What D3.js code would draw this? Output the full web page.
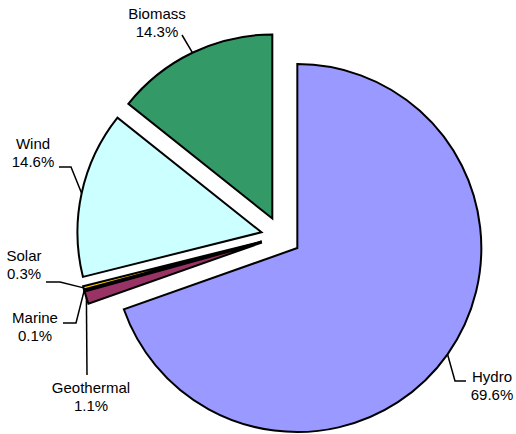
<!DOCTYPE html>
<html>
<head>
<meta charset="utf-8">
<script src="https://cdn.jsdelivr.net/npm/d3@7"></script>
<style>
  body { margin: 0; background: #fff; }
  text { font-family: Arial, "Liberation Sans", sans-serif; font-size: 15px; fill: #000; }
</style>
</head>
<body>
<div id="vis"></div>
<script>
// data
var categories = ['Hydro', 'Geothermal', 'Marine', 'Solar', 'Wind', 'Biomass'];
var shares = [69.6, 1.1, 0.1, 0.3, 14.6, 14.3];
var colors = ['#9999ff', '#993366', '#000080', '#ffcc00', '#ccffff', '#339966'];

var width = 516, height = 434;
var center = { x: 281, y: 236.5 };
var radius = 184;
var explode = 20;

// label text position (centre x, first baseline) and leader line points (label side first)
var labelLayout = {
  Hydro:      { x: 492, y: 382, leader: [[466, 381], [455, 381]] },
  Geothermal: { x: 91,  y: 393, leader: [[87, 375]] },
  Marine:     { x: 35,  y: 323, leader: [[63, 323], [76, 323]] },
  Solar:      { x: 24,  y: 261, leader: [[46, 282], [60, 282]] },
  Wind:       { x: 33,  y: 149, leader: [[59, 167], [71, 167]] },
  Biomass:    { x: 157, y: 19,  leader: [[182, 35]] }
};

var data = categories.map(function(c, i) {
  return { name: c, value: shares[i], color: colors[i] };
});

var pie = d3.pie().sort(null).value(function(d) { return d.value; });
var arc = d3.arc().innerRadius(0).outerRadius(radius);

var svg = d3.select('#vis').append('svg')
  .attr('width', width)
  .attr('height', height);

var arcs = pie(data).map(function(a) {
  var mid = (a.startAngle + a.endAngle) / 2;
  a.dx = explode * Math.sin(mid);
  a.dy = -explode * Math.cos(mid);
  a.anchor = [center.x + a.dx + radius * Math.sin(mid), center.y + a.dy - radius * Math.cos(mid)];
  return a;
});

var g = svg.append('g').attr('transform', 'translate(' + center.x + ',' + center.y + ')');

g.selectAll('.slice')
  .data(arcs)
  .enter().append('path')
  .attr('class', 'slice')
  .attr('transform', function(d) { return 'translate(' + d.dx + ',' + d.dy + ')'; })
  .attr('d', arc)
  .attr('fill', function(d) { return d.data.color; })
  .attr('stroke', '#000')
  .attr('stroke-width', 2)
  .attr('stroke-linejoin', 'miter');

var line = d3.line();

svg.selectAll('.leader')
  .data(arcs)
  .enter().append('path')
  .attr('class', 'leader')
  .attr('d', function(d) {
    var pts = labelLayout[d.data.name].leader.concat([d.anchor]);
    return line(pts);
  })
  .attr('fill', 'none')
  .attr('stroke', '#000')
  .attr('stroke-width', 1.5);

var labels = svg.selectAll('.label')
  .data(arcs)
  .enter().append('text')
  .attr('class', 'label')
  .attr('text-anchor', 'middle')
  .attr('x', function(d) { return labelLayout[d.data.name].x; })
  .attr('y', function(d) { return labelLayout[d.data.name].y; });

labels.append('tspan')
  .attr('x', function(d) { return labelLayout[d.data.name].x; })
  .text(function(d) { return d.data.name; });

labels.append('tspan')
  .attr('x', function(d) { return labelLayout[d.data.name].x; })
  .attr('dy', 18)
  .text(function(d) { return d3.format('.1f')(d.data.value) + '%'; });
</script>
</body>
</html>
